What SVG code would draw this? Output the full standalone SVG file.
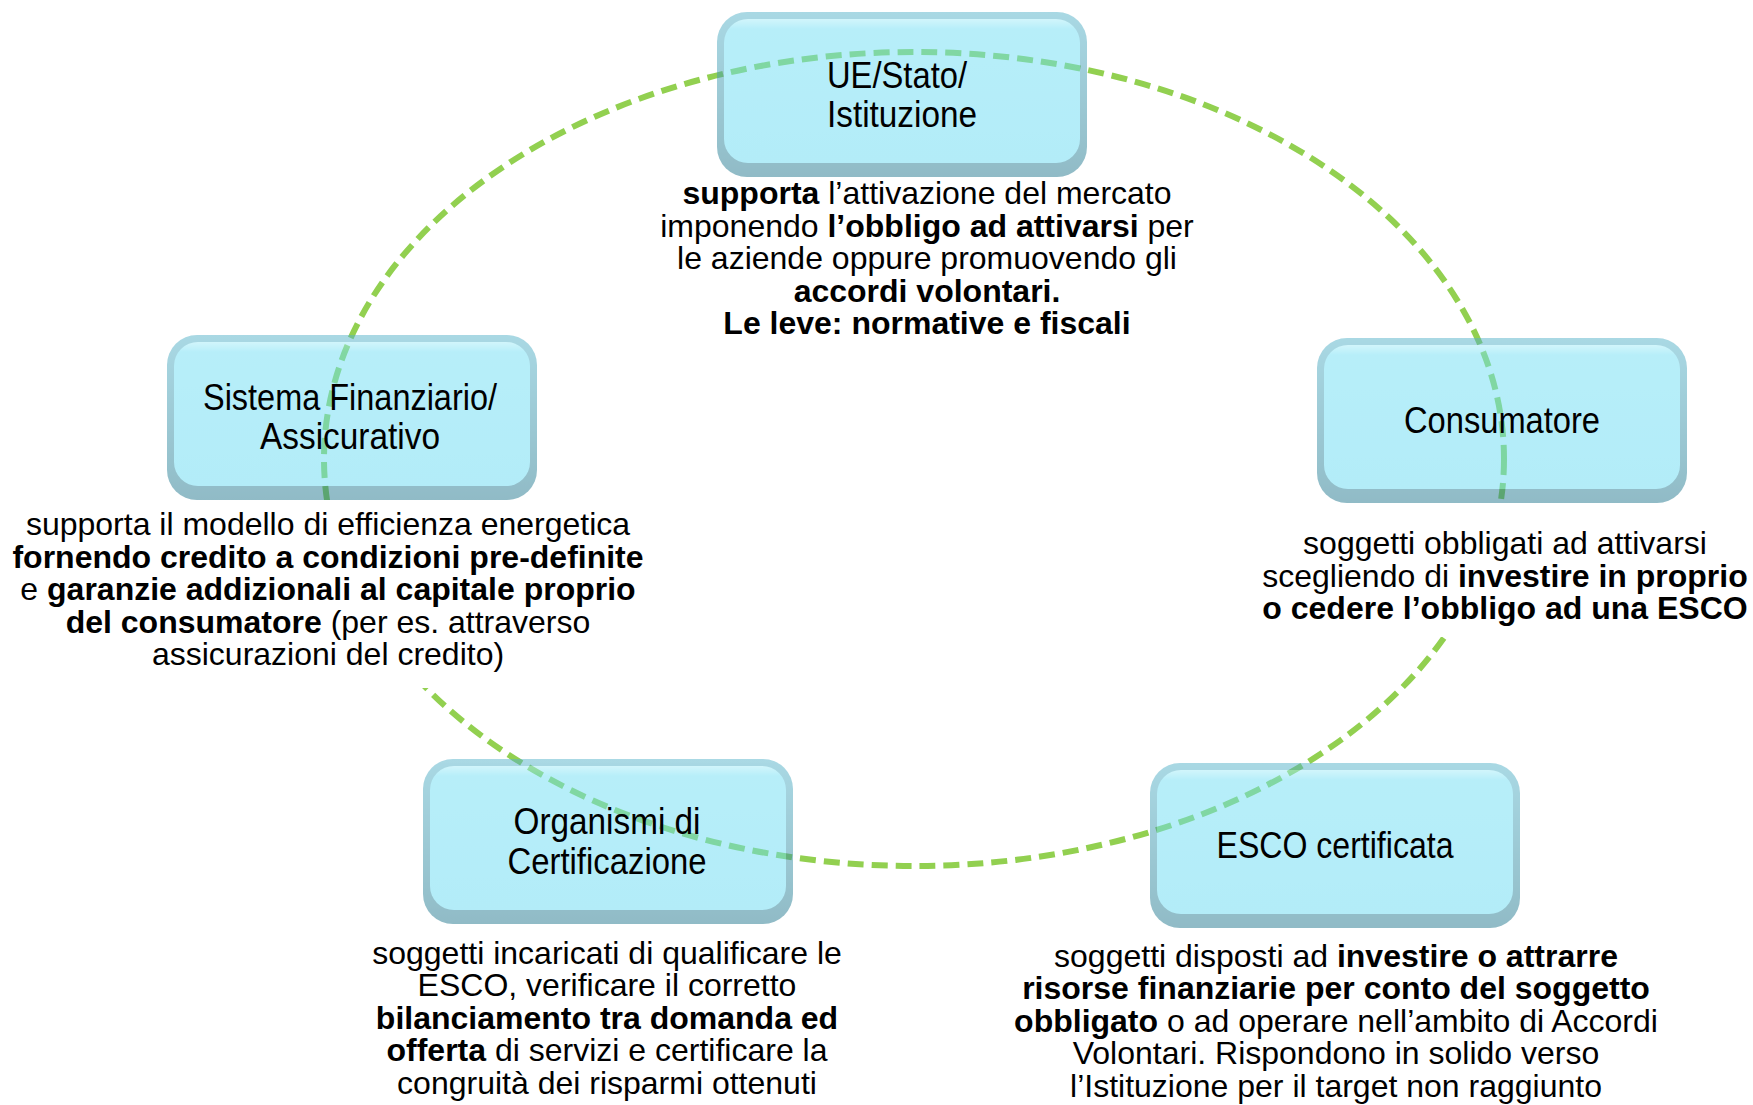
<svg xmlns="http://www.w3.org/2000/svg" xmlns:xlink="http://www.w3.org/1999/xlink" width="1753" height="1105" viewBox="0 0 1753 1105">
<style>
.lbl{font-family:"Liberation Sans",Arial,sans-serif;font-size:37px;fill:#000;text-anchor:middle}
.desc{font-family:"Liberation Sans",Arial,sans-serif;font-size:32px;fill:#000;text-anchor:middle}
.b{font-weight:bold}
.ring{fill:none;stroke:#92d050;stroke-width:6;stroke-dasharray:16 8}
.bg{fill:#fff}
.body{opacity:.5}
</style>
<defs>
<linearGradient id="rimG" x1="0" y1="0" x2="0" y2="1">
<stop offset="0" stop-color="#55b3ca"/>
<stop offset="1" stop-color="#24798f"/>
</linearGradient>
<linearGradient id="faceG" x1="0" y1="0" x2="0" y2="1">
<stop offset="0" stop-color="#a5edf9"/>
<stop offset="0.07" stop-color="#71dff5"/>
<stop offset="1" stop-color="#69dbf3"/>
</linearGradient>
<g id="boxShape">
<rect x="0" y="0" width="370" height="165" rx="30" fill="url(#rimG)"/>
<rect x="7" y="7" width="356" height="144" rx="24" fill="url(#faceG)"/>
</g>
</defs>
<rect width="1753" height="1105" fill="#fff"/>
<g id="connectors">
<ellipse class="ring" cx="914" cy="459" rx="590" ry="407"/>
</g>
<g id="node-ue">
<use class="body" xlink:href="#boxShape" x="717" y="12"/>
<text class="lbl" x="897" y="88" textLength="140" lengthAdjust="spacingAndGlyphs">UE/Stato/</text>
<text class="lbl" x="902" y="127" textLength="150" lengthAdjust="spacingAndGlyphs">Istituzione</text>
<text class="desc" x="927" y="204"><tspan class="b">supporta</tspan> l’attivazione del mercato</text>
<text class="desc" x="927" y="236.5">imponendo <tspan class="b">l’obbligo ad attivarsi</tspan> per</text>
<text class="desc" x="927" y="269">le aziende oppure promuovendo gli</text>
<text class="desc b" x="927" y="301.5">accordi volontari.</text>
<text class="desc b" x="927" y="334">Le leve: normative e fiscali</text>
</g>
<g id="node-sistema">
<rect class="bg" x="5" y="500" width="650" height="188"/>
<use class="body" xlink:href="#boxShape" x="167" y="335"/>
<text class="lbl" x="350" y="410" textLength="294" lengthAdjust="spacingAndGlyphs">Sistema Finanziario/</text>
<text class="lbl" x="350" y="449" textLength="180" lengthAdjust="spacingAndGlyphs">Assicurativo</text>
<text class="desc" x="328" y="535">supporta il modello di efficienza energetica</text>
<text class="desc b" x="328" y="567.5">fornendo credito a condizioni pre-definite</text>
<text class="desc" x="328" y="600">e <tspan class="b">garanzie addizionali al capitale proprio</tspan></text>
<text class="desc" x="328" y="632.5"><tspan class="b">del consumatore</tspan> (per es. attraverso</text>
<text class="desc" x="328" y="665">assicurazioni del credito)</text>
</g>
<g id="node-consumatore">
<rect class="bg" x="1250" y="503" width="503" height="134"/>
<use class="body" xlink:href="#boxShape" x="1317" y="338"/>
<text class="lbl" x="1502" y="433" textLength="196" lengthAdjust="spacingAndGlyphs">Consumatore</text>
<text class="desc" x="1505" y="554">soggetti obbligati ad attivarsi</text>
<text class="desc" x="1505" y="586.5">scegliendo di <tspan class="b">investire in proprio</tspan></text>
<text class="desc b" x="1505" y="619">o cedere l’obbligo ad una ESCO</text>
</g>
<g id="node-organismi">
<use class="body" xlink:href="#boxShape" x="423" y="759"/>
<text class="lbl" x="607" y="834" textLength="187" lengthAdjust="spacingAndGlyphs">Organismi di</text>
<text class="lbl" x="607" y="874" textLength="199" lengthAdjust="spacingAndGlyphs">Certificazione</text>
<text class="desc" x="607" y="963.5">soggetti incaricati di qualificare le</text>
<text class="desc" x="607" y="996">ESCO, verificare il corretto</text>
<text class="desc b" x="607" y="1028.5">bilanciamento tra domanda ed</text>
<text class="desc" x="607" y="1061"><tspan class="b">offerta</tspan> di servizi e certificare la</text>
<text class="desc" x="607" y="1093.5">congruità dei risparmi ottenuti</text>
</g>
<g id="node-esco">
<use class="body" xlink:href="#boxShape" x="1150" y="763"/>
<text class="lbl" x="1335" y="858" textLength="237" lengthAdjust="spacingAndGlyphs">ESCO certificata</text>
<text class="desc" x="1336" y="966.5">soggetti disposti ad <tspan class="b">investire o attrarre</tspan></text>
<text class="desc b" x="1336" y="999">risorse finanziarie per conto del soggetto</text>
<text class="desc" x="1336" y="1031.5"><tspan class="b">obbligato</tspan> o ad operare nell’ambito di Accordi</text>
<text class="desc" x="1336" y="1064">Volontari. Rispondono in solido verso</text>
<text class="desc" x="1336" y="1096.5">l’Istituzione per il target non raggiunto</text>
</g>
</svg>
